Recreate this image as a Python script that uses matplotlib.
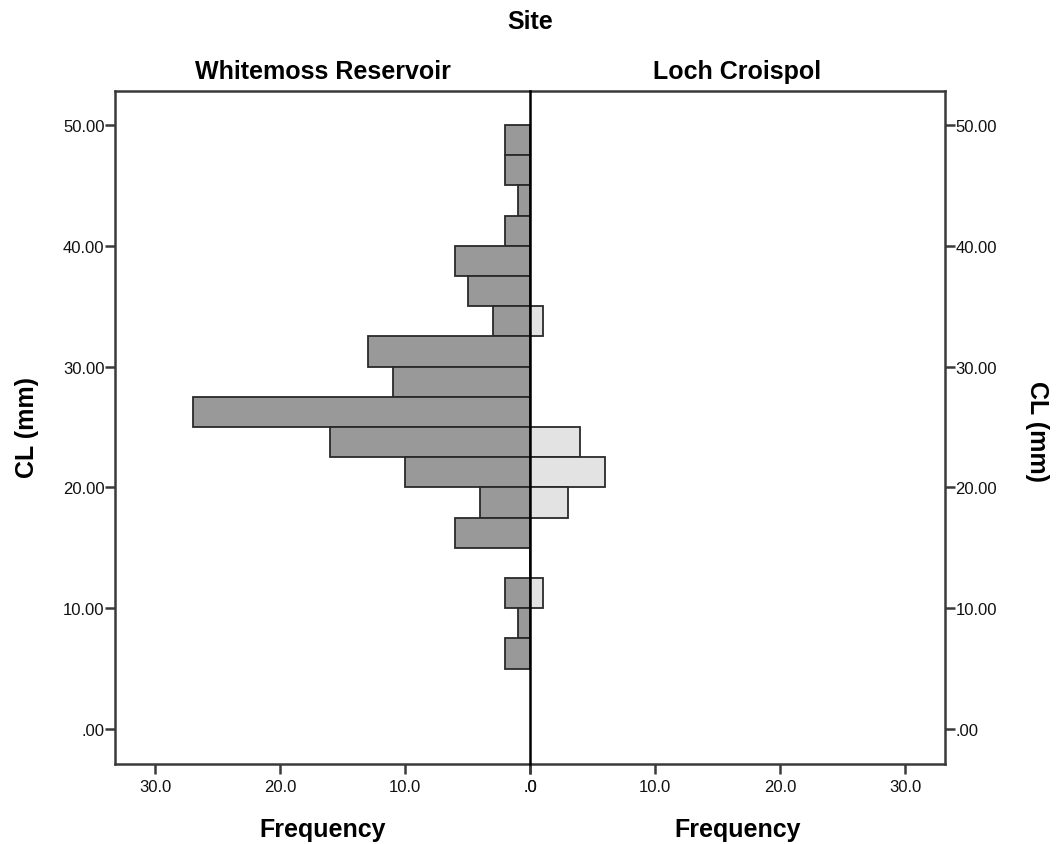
import matplotlib
matplotlib.use("Agg")
import matplotlib.pyplot as plt
from matplotlib.ticker import FuncFormatter

plt.rcParams["font.family"] = ["Liberation Sans", "DejaVu Sans"]

# Histogram bins of CL (mm), lower edges, width 2.5 mm
bin_lower = [47.5, 45.0, 42.5, 40.0, 37.5, 35.0, 32.5, 30.0, 27.5, 25.0,
             22.5, 20.0, 17.5, 15.0, 12.5, 10.0, 7.5, 5.0]
bin_width = 2.5

# Frequencies per bin for each site
whitemoss = [2, 2, 1, 2, 6, 5, 3, 13, 11, 27, 16, 10, 4, 6, 0, 2, 1, 2]
croispol = [0, 0, 0, 0, 0, 0, 1, 0, 0, 0, 4, 6, 3, 0, 0, 1, 0, 0]

sites = ["Whitemoss Reservoir", "Loch Croispol"]
freq_ticks = [0, 10, 20, 30]
cl_ticks = [0, 10, 20, 30, 40, 50]

W, H = 1058, 845
fig = plt.figure(figsize=(W / 100, H / 100), dpi=100)

x0, xm, x1 = 115, 530, 945
y_top, y_bot = 92, 765
ax_l = fig.add_axes([x0 / W, 1 - y_bot / H, (xm - x0) / W, (y_bot - y_top) / H])
ax_r = fig.add_axes([xm / W, 1 - y_bot / H, (x1 - xm) / W, (y_bot - y_top) / H])

xmax = 33.2
ylim = (-2.9, 52.81)
frame_col = "#3a3a3a"
bold_size = 18


def fmt_freq(v, pos):
    return ".0" if v == 0 else f"{v:.1f}"


def fmt_cl(v, pos):
    return ".00" if v == 0 else f"{v:.2f}"


ax_l.barh(bin_lower, whitemoss, height=bin_width, align="edge",
          color="#999999", edgecolor="#2a2a2a", linewidth=1.3)
ax_r.barh(bin_lower, croispol, height=bin_width, align="edge",
          color="#e3e3e3", edgecolor="#2a2a2a", linewidth=1.3)

ax_l.set_xlim(xmax, 0)
ax_r.set_xlim(0, xmax)

for ax in (ax_l, ax_r):
    ax.patch.set_alpha(0)
    ax.set_ylim(*ylim)
    ax.set_xticks(freq_ticks)
    ax.xaxis.set_major_formatter(FuncFormatter(fmt_freq))
    ax.set_yticks(cl_ticks)
    ax.yaxis.set_major_formatter(FuncFormatter(fmt_cl))
    ax.tick_params(axis="both", direction="out", length=7, width=1.8,
                   color=frame_col, labelsize=12, labelcolor="#111111")
    ax.tick_params(axis="x", pad=4)
    ax.tick_params(axis="y", pad=0.5)
    for s in ax.spines.values():
        s.set_color(frame_col)
        s.set_linewidth(1.8)

# zero line between the two panels
ax_r.spines["left"].set_color("black")
ax_r.spines["left"].set_linewidth(1.8)
ax_r.spines["left"].set_zorder(5)
ax_l.spines["right"].set_visible(False)
ax_r.yaxis.tick_right()

# Panel headers, axis titles
fig.text(xm / W, 1 - 22 / H, "Site", ha="center", va="center",
         fontsize=bold_size, fontweight="bold")
fig.text((x0 + xm) / 2 / W, 1 - 72 / H, sites[0], ha="center", va="center",
         fontsize=bold_size, fontweight="bold")
fig.text((xm + x1) / 2 / W, 1 - 72 / H, sites[1], ha="center", va="center",
         fontsize=bold_size, fontweight="bold")
fig.text((x0 + xm) / 2 / W, 1 - 830 / H, "Frequency", ha="center",
         va="center", fontsize=bold_size, fontweight="bold")
fig.text((xm + x1) / 2 / W, 1 - 830 / H, "Frequency", ha="center",
         va="center", fontsize=bold_size, fontweight="bold")
fig.text(27 / W, 1 - 428 / H, "CL (mm)", ha="center", va="center",
         rotation=90, fontsize=bold_size, fontweight="bold")
fig.text(1037 / W, 1 - 432 / H, "CL (mm)", ha="center", va="center",
         rotation=-90, fontsize=bold_size, fontweight="bold")

fig.savefig("out.png", dpi=100)
